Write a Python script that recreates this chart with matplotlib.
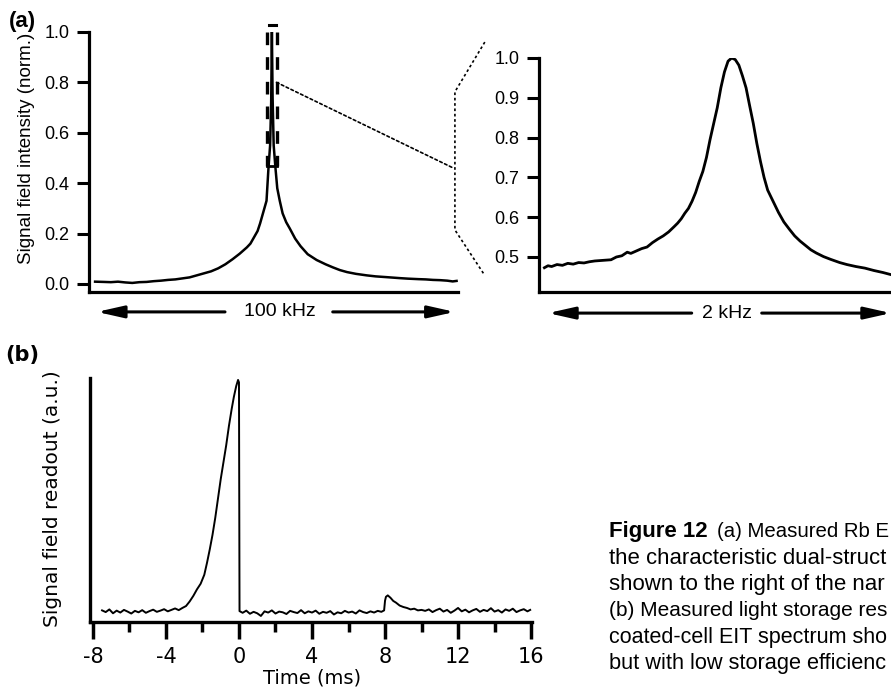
import matplotlib
matplotlib.use("Agg")
import matplotlib.pyplot as plt
from matplotlib.patches import ConnectionPatch

W, H = 891, 688

# (a) wide EIT scan: detuning (kHz) vs normalised signal
freq_wide = [-49.4, -47, -45, -43, -41, -39, -37, -35, -33, -31, -29, -27, -25, -23, -21,
             -19, -17, -15, -13, -11, -9, -7, -6, -5, -4, -3.3, -2.5, -1.5, -1.0, -0.5,
             -0.2, 0, 0.2, 0.5, 1.0, 1.5, 2.2, 3.0, 4.0, 5.0, 6.5, 8, 10, 12.5, 15,
             17, 19, 21, 23.5, 26.5, 29, 32, 35.8, 38, 41, 43, 45, 47, 49, 50.5, 51.6]
sig_wide = [0.009, 0.008, 0.007, 0.009, 0.006, 0.004, 0.007, 0.008, 0.011, 0.013, 0.016, 0.018, 0.022, 0.026, 0.034,
            0.042, 0.050, 0.062, 0.078, 0.098, 0.120, 0.145, 0.160, 0.185, 0.210, 0.240, 0.280, 0.330, 0.45, 0.55,
            0.72, 1.0, 0.74, 0.55, 0.46, 0.38, 0.33, 0.28, 0.245, 0.22, 0.18, 0.15, 0.118, 0.095, 0.078,
            0.066, 0.055, 0.047, 0.040, 0.034, 0.030, 0.027, 0.023, 0.021, 0.019, 0.018, 0.016, 0.015, 0.013, 0.010, 0.012]

# (a) zoom on the narrow peak (kHz)
freq_zoom = [-1.04, -1.02, -1.00, -0.97, -0.94, -0.91, -0.88, -0.85, -0.82, -0.79,
             -0.76, -0.73, -0.70, -0.67, -0.64, -0.61, -0.58, -0.56, -0.53, -0.50,
             -0.47, -0.44, -0.41, -0.38, -0.35, -0.32, -0.30, -0.28, -0.26, -0.24,
             -0.22, -0.20, -0.18, -0.16, -0.14, -0.12, -0.10, -0.08, -0.06, -0.04,
             -0.02, 0.00, 0.02, 0.04, 0.06, 0.08, 0.10, 0.12, 0.14, 0.16,
             0.18, 0.20, 0.23, 0.26, 0.29, 0.32, 0.35, 0.38, 0.41, 0.44,
             0.47, 0.51, 0.55, 0.60, 0.64, 0.69, 0.74, 0.79, 0.84, 0.89]
sig_zoom = [0.473, 0.478, 0.476, 0.481, 0.479, 0.484, 0.482, 0.486, 0.485, 0.488,
            0.490, 0.491, 0.492, 0.493, 0.500, 0.503, 0.512, 0.509, 0.515, 0.521,
            0.525, 0.536, 0.545, 0.553, 0.563, 0.576, 0.585, 0.596, 0.610, 0.622,
            0.640, 0.662, 0.690, 0.715, 0.750, 0.795, 0.835, 0.875, 0.925, 0.965,
            0.992, 1.000, 0.996, 0.982, 0.955, 0.925, 0.880, 0.836, 0.785, 0.740,
            0.700, 0.668, 0.640, 0.612, 0.588, 0.570, 0.553, 0.540, 0.529, 0.518,
            0.510, 0.501, 0.494, 0.486, 0.481, 0.476, 0.472, 0.466, 0.461, 0.455]

# (b) light storage readout vs time (ms)
time_ms = [-7.5, -7.3, -7.1, -6.9, -6.7, -6.5, -6.3, -6.1, -5.9, -5.7, -5.5, -5.3, -5.1, -4.9, -4.7,
           -4.5, -4.3, -4.1, -3.9, -3.7, -3.5, -3.3, -3.1,
           -2.9, -2.7, -2.5, -2.3, -2.1, -1.9, -1.75, -1.6, -1.45, -1.3, -1.15, -1.0, -0.85, -0.7,
           -0.55, -0.4, -0.28, -0.15, -0.05, 0.0,
           0.03, 0.2, 0.4, 0.6, 0.8, 1.0, 1.2, 1.4, 1.6, 1.8, 2.0, 2.2, 2.4, 2.6, 2.8, 3.0, 3.2, 3.4,
           3.6, 3.8, 4.0, 4.2, 4.4, 4.6, 4.8, 5.0, 5.2, 5.4, 5.6, 5.8, 6.0, 6.2, 6.4, 6.6, 6.8, 7.0,
           7.2, 7.4, 7.6, 7.8,
           7.95, 8.0, 8.05, 8.15, 8.3, 8.45, 8.6, 8.8, 9.0, 9.2, 9.4, 9.6, 9.8, 10.0,
           10.2, 10.4, 10.6, 10.8, 11.0, 11.2, 11.4, 11.6, 11.8, 12.0, 12.2, 12.4, 12.6, 12.8, 13.0,
           13.2, 13.4, 13.6, 13.8, 14.0, 14.2, 14.4, 14.6, 14.8, 15.0, 15.2, 15.4, 15.6, 15.8, 15.95]
readout = [0.048, 0.041, 0.052, 0.036, 0.047, 0.039, 0.050, 0.043, 0.035, 0.046, 0.040, 0.049, 0.038, 0.045, 0.051,
           0.042, 0.047, 0.053, 0.044, 0.050, 0.056, 0.049, 0.058,
           0.066, 0.085, 0.108, 0.135, 0.158, 0.195, 0.245, 0.300, 0.360, 0.430, 0.510, 0.590, 0.660, 0.730,
           0.810, 0.880, 0.930, 0.975, 1.000, 0.990,
           0.045, 0.038, 0.047, 0.034, 0.042, 0.036, 0.025, 0.044, 0.039, 0.048, 0.035, 0.043, 0.040, 0.033,
           0.046, 0.041, 0.037, 0.049, 0.036, 0.044, 0.039, 0.047, 0.034, 0.042, 0.038, 0.045, 0.031, 0.040,
           0.036, 0.046, 0.039, 0.043, 0.035, 0.048, 0.041, 0.037, 0.044, 0.039, 0.046, 0.042,
           0.048, 0.088, 0.104, 0.110, 0.100, 0.087, 0.080, 0.068, 0.062, 0.058, 0.052, 0.055, 0.048, 0.050,
           0.046, 0.052, 0.041, 0.049, 0.055, 0.043, 0.050, 0.038, 0.047, 0.058, 0.044, 0.051, 0.040, 0.048, 0.054,
           0.042, 0.050, 0.045, 0.057, 0.043, 0.049, 0.039, 0.052, 0.046, 0.055, 0.041, 0.048, 0.053, 0.044, 0.050]

yticks_wide = [0.0, 0.2, 0.4, 0.6, 0.8, 1.0]
yticks_zoom = [0.5, 0.6, 0.7, 0.8, 0.9, 1.0]
xticks_b = [-8, -4, 0, 4, 8, 12, 16]
xminor_b = [-6, -2, 2, 6, 10, 14]

# caption as visible in the (cropped) reference
caption_head = "Figure 12"
caption_first = "(a) Measured Rb E"
caption_lines = [
    "the characteristic dual-struct",
    "shown to the right of the nar",
    "(b) Measured light storage res",
    "coated-cell EIT spectrum sho",
    "but with low storage efficienc",
]

HELV = "Liberation Sans"
LUC = "DejaVu Sans"


def rect(left, top, right, bottom):
    # pixel box -> figure fraction [l, b, w, h]
    return [left / W, 1 - bottom / H, (right - left) / W, (bottom - top) / H]


def fx(px):
    return px / W


def fy(py):
    return 1 - py / H


def fit_right(txt, renderer, limit=888):
    # shrink a caption line a little if it would run past the right edge
    bb = txt.get_window_extent(renderer)
    if bb.x1 > limit:
        txt.set_fontsize(txt.get_fontsize() * (limit - bb.x0) / (bb.x1 - bb.x0))
    return txt


fig = plt.figure(figsize=(W / 100, H / 100), dpi=100, facecolor="white")
renderer = fig.canvas.get_renderer()

# ---------------- (a) wide scan ----------------
ax1 = fig.add_axes(rect(89, 32, 458, 292))
ax1.plot(freq_wide, sig_wide, "-", color="black", lw=1.8, zorder=3)
ax1.set_xlim(-51.1, 52.0)
ax1.set_ylim(-0.032, 1.0)
ax1.set_yticks(yticks_wide)
ax1.set_yticklabels(["%.1f" % v for v in yticks_wide], family=HELV, fontsize=13)
ax1.set_xticks([])
for s in ["top", "right"]:
    ax1.spines[s].set_visible(False)
for s in ["left", "bottom"]:
    ax1.spines[s].set_linewidth(2.3)
ax1.tick_params(axis="y", direction="out", length=9, width=2.2, pad=5)

# dashed box around the narrow peak
ax1.plot([-1.3, -1.3], [1.0, 0.468], color="black", lw=2.4, ls=(0, (3.8, 3.6)), zorder=4)
ax1.plot([1.3, 1.3], [1.0, 0.468], color="black", lw=2.4, ls=(0, (3.8, 3.6)), zorder=4)
ax1.plot([-1.3, 1.3], [0.468, 0.468], color="black", lw=2.0, zorder=4)
ax1.plot([-0.9, 1.1], [1.028, 1.028], color="black", lw=2.2, clip_on=False)

# 100 kHz span arrows
arr = dict(arrowstyle="-|>,head_length=0.8,head_width=0.18", lw=2.2, color="black",
           mutation_scale=20, shrinkA=0, shrinkB=0)
ax1.annotate("", xy=(-48.9, -0.111), xytext=(-13.1, -0.111), arrowprops=arr, annotation_clip=False)
ax1.annotate("", xy=(51.1, -0.111), xytext=(17.0, -0.111), arrowprops=arr, annotation_clip=False)
ax1.text(2.2, -0.111, "100 kHz", family=HELV, fontsize=14, ha="center", va="center")

fig.text(fx(27), fy(148), "Signal field intensity (norm.)", family=HELV, fontsize=13.5,
         rotation=90, ha="center", va="center")
fig.text(fx(22), fy(22), "(a)", family=HELV, weight="bold", fontsize=16, ha="center", va="center")

# ---------------- (a) zoom ----------------
ax2 = fig.add_axes(rect(539, 58, 891, 292))
ax2.plot(freq_zoom, sig_zoom, "-", color="black", lw=2.0)
ax2.set_xlim(-1.07, 0.885)
ax2.set_ylim(0.412, 1.0)
ax2.set_yticks(yticks_zoom)
ax2.set_yticklabels(["%.1f" % v for v in yticks_zoom], family=HELV, fontsize=13)
ax2.set_xticks([])
for s in ["top", "right"]:
    ax2.spines[s].set_visible(False)
for s in ["left", "bottom"]:
    ax2.spines[s].set_linewidth(2.3)
ax2.tick_params(axis="y", direction="out", length=9, width=2.2, pad=5)

ax2.annotate("", xy=(-1.02, 0.359), xytext=(-0.222, 0.359), arrowprops=arr, annotation_clip=False)
ax2.annotate("", xy=(0.885, 0.359), xytext=(0.167, 0.359), arrowprops=arr, annotation_clip=False)
ax2.text(-0.025, 0.359, "2 kHz", family=HELV, fontsize=14, ha="center", va="center")

# dotted zoom guide
dot = (0, (1.6, 1.6))
ax2.plot([-1.371, -1.537, -1.537, -1.376], [1.040, 0.915, 0.568, 0.457],
         color="black", lw=1.2, ls=dot, clip_on=False)
con = ConnectionPatch(xyA=(1.3, 0.8), coordsA=ax1.transData,
                      xyB=(-1.548, 0.724), coordsB=ax2.transData,
                      color="black", lw=1.2, ls=dot)
fig.add_artist(con)

# ---------------- (b) storage ----------------
ax3 = fig.add_axes(rect(90, 378, 532, 622))
ax3.plot(time_ms, readout, "-", color="black", lw=1.4)
ax3.set_xlim(-8.16, 16.05)
ax3.set_ylim(0, 1.008)
ax3.set_xticks(xticks_b)
ax3.set_xticks(xminor_b, minor=True)
ax3.set_xticklabels([str(v) for v in xticks_b], family=LUC, fontsize=15)
ax3.set_yticks([])
for s in ["top", "right"]:
    ax3.spines[s].set_visible(False)
for s in ["left", "bottom"]:
    ax3.spines[s].set_linewidth(2.4)
ax3.tick_params(axis="x", which="major", direction="out", length=12, width=2.5, pad=6)
ax3.tick_params(axis="x", which="minor", direction="out", length=7, width=2.5)

fig.text(fx(312), fy(683), "Time (ms)", family=LUC, fontsize=14, ha="center", va="baseline")
fig.text(fx(53), fy(499), "Signal field readout (a.u.)", family=LUC, fontsize=14.5,
         rotation=90, ha="center", va="center")
fig.text(fx(22), fy(355), "(b)", family=LUC, weight="bold", fontsize=15, ha="center", va="center")

# ---------------- caption ----------------
cap_x = 609
cap_y = [537, 563.5, 590, 616, 642.5, 669]
t = fig.text(fx(cap_x), fy(cap_y[0]), caption_head, family=HELV, weight="bold",
             fontsize=16, va="baseline")
bb = t.get_window_extent(renderer)
first = fig.text((bb.x1 + 9) / W, fy(cap_y[0]), caption_first, family=HELV,
                 fontsize=15.6, va="baseline")
fit_right(first, renderer)
for line, yy in zip(caption_lines, cap_y[1:]):
    fit_right(fig.text(fx(cap_x), fy(yy), line, family=HELV, fontsize=16, va="baseline"), renderer)

fig.savefig("out.png", dpi=100, facecolor="white")
